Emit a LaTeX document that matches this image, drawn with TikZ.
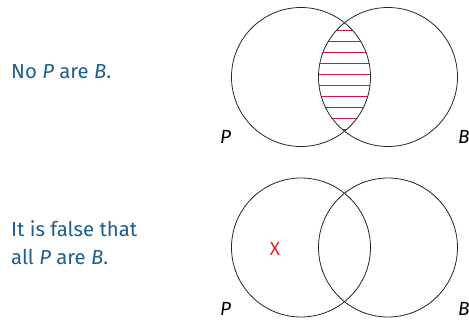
\documentclass[tikz,border=0pt]{standalone}
\usepackage{fontspec}
\setmainfont{Fira Sans}
\definecolor{txtblue}{HTML}{1B5E8F}
\definecolor{hatchred}{HTML}{C8194B}
\definecolor{xred}{HTML}{E3262B}
\begin{document}
\begin{tikzpicture}[x=1pt,y=-1pt,
  venn/.style={draw=black!85,line width=0.8pt},
  stmt/.style={text=txtblue,font=\fontsize{20.3}{28.3}\selectfont,inner sep=0pt,anchor=base west},
  setlbl/.style={font=\fontsize{19}{20}\selectfont\itshape,inner sep=0pt,anchor=base west},
  hatch/.style={draw=hatchred,line width=0.8pt}]
\useasboundingbox (0,0) rectangle (469,320);
% top diagram
\node[stmt] (s1) at (11,79) {No \textit{P} are \textit{B}.};
\begin{scope}
  \clip (301,77) circle (69.5);
  \clip (388,77) circle (69.5);
  \foreach \k in {-4,...,5}{
    \draw[hatch] (300,74+11*\k) -- (390,74+11*\k);
  }
\end{scope}
\draw[venn] (301,77) circle (69.5);
\draw[venn] (388,77) circle (69.5);
\node[setlbl] (p1) at (220,144) {P};
\node[setlbl] (b1) at (458,144) {B};
% bottom diagram
\node[stmt] (s2a) at (11,236.7) {It is false that};
\node[stmt] (s2b) at (11,265) {all \textit{P} are \textit{B}.};
\node[text=xred,font=\fontsize{19}{20}\selectfont,inner sep=0pt] (x) at (275,248.5) {X};
\draw[venn] (301,247.5) circle (69.5);
\draw[venn] (388,247.5) circle (69.5);
\node[setlbl] (p2) at (220,316) {P};
\node[setlbl] (b2) at (458,316) {B};
\end{tikzpicture}
\end{document}
